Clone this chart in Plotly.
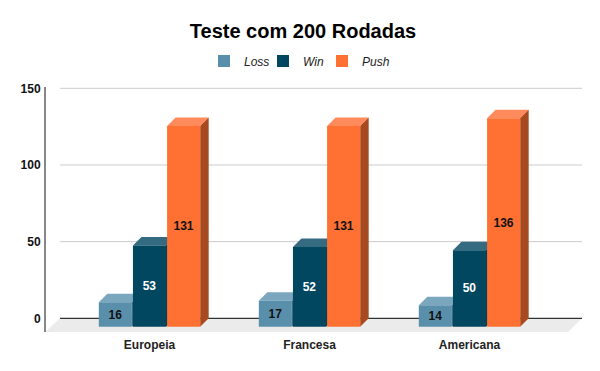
import plotly.graph_objects as go

# ---- data ----
categories = ["Europeia", "Francesa", "Americana"]
series_names = ["Loss", "Win", "Push"]
loss = [16, 17, 14]
win = [53, 52, 50]
push = [131, 131, 136]
y_ticks = [0, 50, 100, 150]
title_text = "Teste com 200 Rodadas"

# ---- style ----
front_colors = ["#5a8fac", "#01475f", "#ff7033"]
top_colors = ["#7aa7be", "#356b80", "#ff8a5c"]
side_colors = ["#3f6c82", "#013548", "#a84a20"]
label_colors = ["#111111", "#ffffff", "#111111"]
FONT = "Arial, Liberation Sans, sans-serif"

PAGE_W, PAGE_H = 600, 371
BODY = 8                        # browser body margin
W, H = PAGE_W - BODY, PAGE_H - BODY
# plot area in page pixels
P_LEFT, P_RIGHT, P_TOP, P_BOTTOM = 45, 582, 87, 332
ML, MR = P_LEFT - BODY, PAGE_W - P_RIGHT
MT, MB = P_TOP - BODY, PAGE_H - P_BOTTOM

PX_PER_UNIT = 230 / 150        # vertical scale (px per value unit)
PX_PER_CAT = 160               # horizontal spacing between categories (px)
DEPTH = 8.5                    # 3D depth offset in px
BACK_ZERO_PX = 318.3
FRONT_ZERO_PX = BACK_ZERO_PX + DEPTH
GRID_LEFT_PX = 60
FIRST_CENTER_PX = 149.5

s = DEPTH / PX_PER_UNIT        # depth in value units
dxu = DEPTH / PX_PER_CAT       # depth in category units

plot_w = P_RIGHT - P_LEFT
x_dom0 = (GRID_LEFT_PX - P_LEFT) / plot_w
x_range = [(GRID_LEFT_PX - FIRST_CENTER_PX) / PX_PER_CAT,
           (P_RIGHT - FIRST_CENTER_PX) / PX_PER_CAT]
y_range = [(FRONT_ZERO_PX - P_BOTTOM) / PX_PER_UNIT,
           (FRONT_ZERO_PX - P_TOP) / PX_PER_UNIT]

group_w = 0.64
slot = group_w / 3
gap = 0.03
bar_w = slot * (1 - gap)

fig = go.Figure()
shapes = []

# floor
floor_bot_right = (P_RIGHT - 14 - P_LEFT) / plot_w
shapes.append(dict(
    type="path", xref="paper", yref="y", layer="below",
    path=f"M {x_dom0},{s} L 1,{s} L {floor_bot_right},{y_range[0]} L 0,{y_range[0]} Z",
    fillcolor="#ebebeb", line=dict(width=0)))
# back-wall gridlines
for t in y_ticks:
    shapes.append(dict(type="line", xref="x domain", yref="y", x0=0, x1=1,
                       y0=t + s, y1=t + s, layer="below",
                       line=dict(color="#333333" if t == 0 else "#cccccc",
                                 width=1.3 if t == 0 else 1)))

xs = list(range(len(categories)))
for i, (name, vals) in enumerate(zip(series_names, [loss, win, push])):
    offset = -group_w / 2 + slot * i + slot * gap / 2
    fig.add_trace(go.Bar(
        name=name, x=xs, y=vals, width=bar_w, offset=offset,
        marker=dict(color=front_colors[i], line=dict(width=0)),
        text=vals, texttemplate="%{text}", textposition="inside",
        insidetextanchor="middle", textangle=0, constraintext="none",
        textfont=dict(family=FONT, size=12, color=label_colors[i], weight="bold"),
        hoverinfo="skip"))
    for xc, v in zip(xs, vals):
        x0 = xc + offset
        x1 = x0 + bar_w
        shapes.append(dict(type="path", xref="x", yref="y", layer="below",
                           path=f"M {x0},{v} L {x1},{v} L {x1+dxu},{v+s} L {x0+dxu},{v+s} Z",
                           fillcolor=top_colors[i], line=dict(width=0)))
        shapes.append(dict(type="path", xref="x", yref="y", layer="below",
                           path=f"M {x1},0 L {x1},{v} L {x1+dxu},{v+s} L {x1+dxu},{s} Z",
                           fillcolor=side_colors[i], line=dict(width=0)))

# empty legend spacer so the last legend label is not clipped
fig.add_trace(go.Bar(x=[None], y=[None], name=" ", showlegend=True,
                     marker=dict(color="rgba(0,0,0,0)",
                                 line=dict(width=0, color="rgba(0,0,0,0)")),
                     hoverinfo="skip"))

# front y axis line
shapes.append(dict(type="line", xref="paper", yref="paper", x0=0, x1=0, y0=0, y1=1,
                   line=dict(color="#111111", width=1), layer="above"))

ENTRY_W = 14
fig.update_layout(
    width=W, height=H,
    margin=dict(l=ML, r=MR, t=MT, b=MB, autoexpand=False),
    paper_bgcolor="white", plot_bgcolor="white",
    barmode="overlay",
    shapes=shapes,
    title=dict(text=title_text, x=(303 - BODY) / W, xref="container", xanchor="center",
               y=1 - (31 - BODY) / H, yref="container", yanchor="middle",
               font=dict(family=FONT, size=20, color="#000000", weight="bold")),
    legend=dict(orientation="h", xref="container", yref="container",
                x=(322 - BODY) / W, xanchor="center", y=1 - (61 - BODY) / H, yanchor="middle",
                entrywidth=ENTRY_W,
                font=dict(family=FONT, size=12, color="#222222", style="italic"),
                itemclick=False, traceorder="normal"),
    xaxis=dict(domain=[x_dom0, 1], range=x_range, tickvals=xs, ticktext=categories,
               showgrid=False, zeroline=False, showline=False,
               ticks="outside", ticklen=2, tickcolor="rgba(0,0,0,0)",
               tickfont=dict(family=FONT, size=12, color="#222222", weight="bold"),
               automargin=False, fixedrange=True),
    yaxis=dict(range=y_range,
               tickvals=[t + s for t in y_ticks], ticktext=[str(t) for t in y_ticks],
               showgrid=False, zeroline=False, showline=False,
               ticks="outside", ticklen=16, tickcolor="rgba(0,0,0,0)",
               tickfont=dict(family=FONT, size=12, color="#111111", weight="bold"),
               automargin=False, fixedrange=True),
)

fig.write_html("out.html")
